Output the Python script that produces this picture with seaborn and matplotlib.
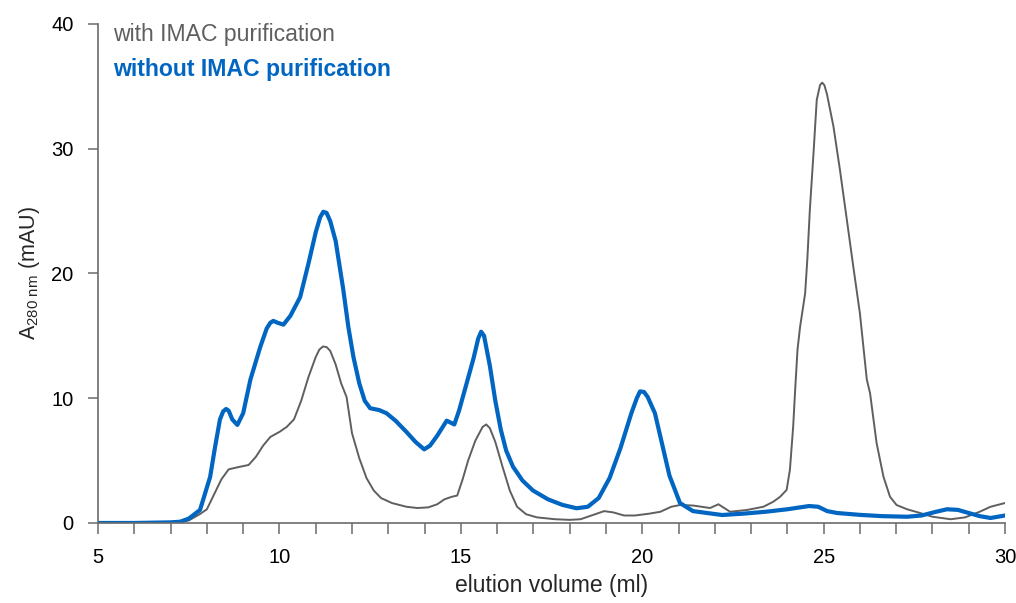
import numpy as np
import pandas as pd
import matplotlib
matplotlib.use("Agg")
import matplotlib.pyplot as plt
import seaborn as sns

# Size-exclusion chromatogram, absorbance at 280 nm vs elution volume
vol_with = [5.0, 7.0, 7.5, 7.8, 8.0, 8.2, 8.4, 8.6, 8.9, 9.15, 9.35, 9.55, 9.75,
            10.0, 10.2, 10.4, 10.6, 10.8, 11.0, 11.1, 11.2, 11.3, 11.4, 11.55, 11.7, 11.85,
            12.0, 12.2, 12.4, 12.6, 12.8, 13.1, 13.5, 13.8, 14.1, 14.35, 14.55,
            14.75, 14.9, 15.05, 15.2, 15.4, 15.6, 15.7, 15.8, 15.95, 16.15, 16.35,
            16.55, 16.8, 17.1, 17.6, 18.0, 18.3, 18.6, 18.95, 19.2, 19.5, 19.8,
            20.2, 20.5, 20.8, 21.04, 21.4, 21.87, 22.1, 22.42, 22.88, 23.34, 23.61,
            23.8, 23.98, 24.07, 24.16, 24.21, 24.28, 24.35, 24.49, 24.55, 24.62,
            24.72, 24.81, 24.9, 24.96, 25.02, 25.09, 25.27, 25.45, 25.64, 25.82, 26.0,
            26.19, 26.28, 26.46, 26.65, 26.83, 27.01, 27.3, 27.6, 28.0, 28.5,
            28.9, 29.3, 29.6, 30.0]
abs_with = [0.0, 0.0, 0.2, 0.7, 1.1, 2.3, 3.5, 4.3, 4.5, 4.65, 5.3, 6.2, 6.9,
            7.3, 7.7, 8.3, 9.8, 11.7, 13.3, 13.9, 14.15, 14.1, 13.8, 12.7, 11.2, 10.1,
            7.2, 5.2, 3.6, 2.6, 2.0, 1.6, 1.3, 1.2, 1.25, 1.5, 1.9,
            2.1, 2.2, 3.5, 5.0, 6.6, 7.7, 7.9, 7.6, 6.5, 4.5, 2.6,
            1.3, 0.7, 0.45, 0.3, 0.25, 0.3, 0.6, 0.95, 0.85, 0.6, 0.6,
            0.75, 0.9, 1.3, 1.44, 1.4, 1.2, 1.5, 0.9, 1.04, 1.3, 1.7,
            2.1, 2.65, 4.25, 7.7, 10.4, 13.9, 15.7, 18.4, 21.1, 25.1,
            29.6, 33.9, 35.1, 35.3, 35.1, 34.4, 31.8, 28.3, 24.3, 20.5, 16.8,
            11.5, 10.4, 6.4, 3.7, 2.1, 1.44, 1.1, 0.85, 0.5, 0.3,
            0.45, 0.9, 1.3, 1.6]

vol_without = [5.0, 6.0, 7.0, 7.26, 7.5, 7.81, 8.09, 8.22, 8.36, 8.45, 8.53, 8.6, 8.7, 8.84,
               9.0, 9.2, 9.47, 9.65, 9.75, 9.83, 9.95, 10.11, 10.3, 10.57, 10.8, 11.0,
               11.12, 11.21, 11.3, 11.4, 11.55, 11.76, 11.9, 12.04, 12.2, 12.35, 12.5, 12.75,
               12.95, 13.2, 13.5, 13.75, 13.99, 14.15, 14.35, 14.61, 14.82, 14.95,
               15.16, 15.35, 15.48, 15.56, 15.64, 15.8, 15.95, 16.1, 16.25, 16.44, 16.7,
               16.99, 17.4, 17.8, 18.19, 18.5, 18.8, 19.1, 19.4, 19.7, 19.85, 19.94, 20.05, 20.15,
               20.35, 20.55, 20.75, 21.04, 21.4, 22.2, 22.8, 23.4, 24.0, 24.6,
               24.85, 25.1, 25.37, 26.0, 26.6, 27.3, 27.7, 28.1, 28.4, 28.7, 29.0,
               29.3, 29.6, 30.0]
abs_without = [0.0, 0.0, 0.05, 0.1, 0.35, 1.04, 3.7, 6.0, 8.3, 8.95, 9.14, 9.0, 8.3, 7.86,
               8.8, 11.5, 14.1, 15.6, 16.05, 16.2, 16.05, 15.9, 16.6, 18.1, 20.8, 23.3,
               24.5, 24.95, 24.85, 24.2, 22.6, 18.7, 15.7, 13.3, 11.2, 9.8, 9.2, 9.05,
               8.8, 8.2, 7.3, 6.5, 5.9, 6.2, 7.0, 8.2, 7.9, 9.0,
               11.2, 13.2, 14.8, 15.33, 15.0, 12.6, 9.8, 7.5, 5.8, 4.5, 3.4,
               2.6, 1.9, 1.45, 1.18, 1.3, 2.0, 3.6, 6.0, 8.8, 10.0, 10.55, 10.5, 10.1,
               8.8, 6.3, 3.8, 1.6, 0.95, 0.64, 0.75, 0.9, 1.1, 1.36,
               1.3, 0.95, 0.8, 0.65, 0.55, 0.5, 0.6, 0.9, 1.1, 1.05, 0.8,
               0.55, 0.4, 0.6]

series_names = ["with IMAC purification", "without IMAC purification"]
series_colors = ["#5f5f5f", "#0066c2"]

df = pd.concat([
    pd.DataFrame({"volume": vol_with, "absorbance": abs_with, "sample": series_names[0]}),
    pd.DataFrame({"volume": vol_without, "absorbance": abs_without, "sample": series_names[1]}),
], ignore_index=True)

sns.set_theme(style="ticks")
plt.rcParams["font.family"] = ["Liberation Sans", "DejaVu Sans"]
plt.rcParams["mathtext.fontset"] = "custom"
plt.rcParams["mathtext.rm"] = "Liberation Sans"
plt.rcParams["mathtext.it"] = "Liberation Sans:italic"

fig = plt.figure(figsize=(10.16, 6.03), dpi=100)
ax = fig.add_axes([0.0965, 0.1327, 0.8927, 0.8275])

sns.lineplot(data=df, x="volume", y="absorbance", hue="sample",
             palette=dict(zip(series_names, series_colors)),
             size="sample", sizes={series_names[0]: 1.4, series_names[1]: 3.0},
             legend=False, sort=False, estimator=None, ax=ax)
for line in ax.lines:
    line.set_solid_joinstyle("round")
    line.set_solid_capstyle("round")

spine_col = "#6b6b6b"
ax.set_xlim(5, 30)
ax.set_ylim(0, 40)
ax.set_xticks([5, 10, 15, 20, 25, 30])
ax.set_xticks(np.arange(5, 31, 1), minor=True)
ax.set_yticks([0, 10, 20, 30, 40])
sns.despine(ax=ax)
for s in ("left", "bottom"):
    ax.spines[s].set_color(spine_col)
    ax.spines[s].set_linewidth(1.2)
ax.tick_params(axis="x", which="both", length=8, width=1.1, color=spine_col,
               labelsize=14.5, pad=10, labelcolor="black")
ax.tick_params(axis="y", which="both", length=7.5, width=1.1, color=spine_col,
               labelsize=14.5, pad=10, labelcolor="black")
ax.set_xlabel("elution volume (ml)", fontsize=16.5, labelpad=5)
ax.set_ylabel(r"A$_{\mathregular{280\ nm}}$ (mAU)", fontsize=15.5, labelpad=7)
ax.grid(False)

ax.text(0.0165, 0.978, series_names[0], transform=ax.transAxes, fontsize=16.6,
        color=series_colors[0], va="center", ha="left")
ax.text(0.0165, 0.908, series_names[1], transform=ax.transAxes, fontsize=16.6,
        color=series_colors[1], fontweight="bold", va="center", ha="left")

fig.savefig("out.png", dpi=100)
